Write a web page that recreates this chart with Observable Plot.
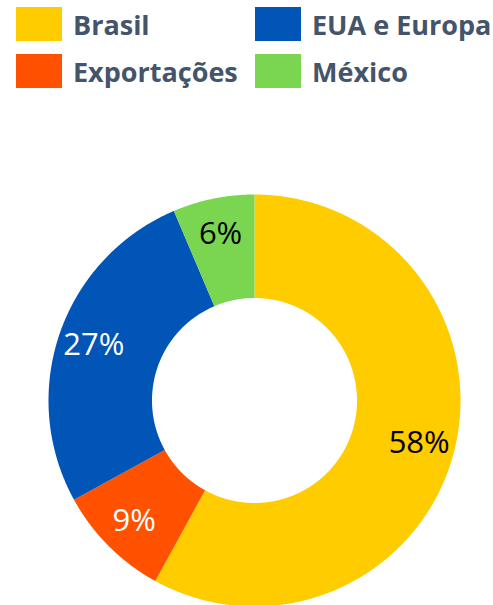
<!DOCTYPE html>
<html><head><meta charset="utf-8">
<script src="https://cdn.jsdelivr.net/npm/d3@7"></script>
<script src="https://cdn.jsdelivr.net/npm/@observablehq/plot@0.6"></script>
<style>
body{margin:0;background:#fff;width:493px;height:605px;overflow:hidden;font-family:"Open Sans",sans-serif;position:relative;}
.sw{position:absolute;width:46px;height:34px;}
.lb{position:absolute;font-weight:700;font-size:27px;color:#44546A;line-height:1;white-space:nowrap;}
#chart{position:absolute;top:100px;left:0;}
</style></head><body>
<div id="legend"></div><div id="chart"></div>
<script>
const categories = ["Brasil", "Exportações", "EUA e Europa", "México"];
const shares = [58, 9, 26.6, 6.4];
const shareLabels = ["58%", "9%", "27%", "6%"];
const colors = ["#FFCC00", "#FF5100", "#0055B7", "#7AD551"];
const labelColors = ["#000000", "#ffffff", "#ffffff", "#000000"];
const legendOrder = ["Brasil", "EUA e Europa", "Exportações", "México"];

// legend (HTML, above the SVG)
const legend = document.getElementById("legend");
const legPos = [[16, 7, 73, 11], [255, 7, 312, 11], [16, 54, 73, 58], [255, 54, 312, 58]];
legendOrder.forEach((name, i) => {
  const [sx, sy, tx, ty] = legPos[i];
  const sw = document.createElement("div");
  sw.className = "sw";
  sw.style.left = sx + "px"; sw.style.top = sy + "px";
  sw.style.background = colors[categories.indexOf(name)];
  legend.appendChild(sw);
  const lb = document.createElement("div");
  lb.className = "lb";
  lb.style.left = tx + "px"; lb.style.top = ty + "px";
  lb.textContent = name;
  legend.appendChild(lb);
});

// donut geometry (pixel units)
const W = 493, H = 505, cx = 254, cy = 300;
const R = 206, r0 = 102.5, rLabel = 170;

const rows = categories.map((c, i) => ({category: c, share: shares[i], label: shareLabels[i], textColor: labelColors[i]}));
const arcs = d3.pie().sort(null).value(d => d.share)(rows);

const poly = [];
arcs.forEach(a => {
  const n = Math.max(4, Math.ceil((a.endAngle - a.startAngle) / 0.005));
  for (let k = 0; k <= n; k++) {
    const t = a.startAngle + (a.endAngle - a.startAngle) * k / n;
    poly.push({category: a.data.category, x: R * Math.sin(t), y: R * Math.cos(t)});
  }
  for (let k = n; k >= 0; k--) {
    const t = a.startAngle + (a.endAngle - a.startAngle) * k / n;
    poly.push({category: a.data.category, x: r0 * Math.sin(t), y: r0 * Math.cos(t)});
  }
});

const labels = arcs.map(a => {
  const m = (a.startAngle + a.endAngle) / 2;
  return {text: a.data.label, x: rLabel * Math.sin(m), y: rLabel * Math.cos(m), color: a.data.textColor};
});

const chart = Plot.plot({
  width: W, height: H,
  margin: 0,
  x: {domain: [-cx, W - cx], axis: null},
  y: {domain: [-(H - cy), cy], axis: null},
  color: {domain: categories, range: colors},
  style: {background: "transparent", overflow: "visible"},
  marks: [
    Plot.line(poly, {x: "x", y: "y", z: "category", fill: "category", stroke: "none", curve: "linear-closed"}),
    Plot.text(labels.filter(d => d.color === "#ffffff"), {x: "x", y: "y", text: "text", fill: "#ffffff", fontSize: 31, fontFamily: "Open Sans", textAnchor: "middle", lineAnchor: "middle"}),
    Plot.text(labels.filter(d => d.color !== "#ffffff"), {x: "x", y: "y", text: "text", fill: "#000000", fontSize: 31, fontFamily: "Open Sans", textAnchor: "middle", lineAnchor: "middle"})
  ]
});
document.getElementById("chart").appendChild(chart);
</script>
</body></html>
